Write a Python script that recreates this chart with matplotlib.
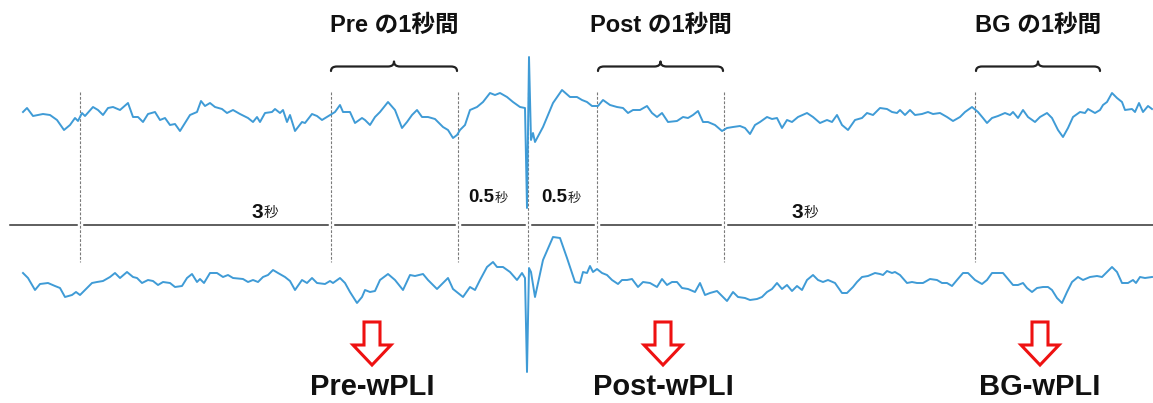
import numpy as np
import matplotlib.pyplot as plt
from matplotlib.path import Path
from matplotlib.patches import PathPatch, Polygon

plt.rcParams['font.family'] = ['Liberation Sans', 'Noto Sans CJK JP']

# two EEG channels, sample position vs. trace value (screen units, y down)
upper_t = [23, 27, 33, 43, 50, 57, 64, 70, 75, 78, 82, 85, 93, 98, 103, 108, 113, 120, 128, 133,
           138, 143, 148, 155, 160, 165, 170, 175, 180, 185, 190, 197, 201, 205, 210, 215, 222, 227, 233, 240,
           248, 253, 257, 260, 265, 272, 275, 280, 283, 287, 290, 295, 302, 305, 312, 317, 322, 330, 335, 340,
           343, 350, 355, 362, 365, 370, 375, 380, 388, 395, 402, 407, 412, 417, 422, 428, 435, 443, 448, 453,
           457, 460, 465, 470, 477, 483, 490, 495, 500, 507, 513, 520, 525, 527, 529, 531, 533, 535, 543, 553,
           562, 570, 577, 582, 587, 592, 598, 603, 610, 617, 623, 628, 633, 640, 647, 652, 657, 662, 668, 677,
           683, 688, 693, 698, 703, 708, 715, 722, 727, 733, 740, 745, 750, 755, 760, 767, 772, 777, 782, 787,
           792, 798, 807, 813, 820, 827, 832, 837, 842, 848, 855, 862, 867, 873, 880, 887, 892, 897, 900, 905,
           910, 915, 922, 928, 933, 940, 947, 953, 960, 965, 972, 978, 983, 987, 992, 998, 1005, 1010, 1013, 1018,
           1023, 1028, 1035, 1040, 1047, 1052, 1058, 1063, 1068, 1073, 1080, 1085, 1088, 1095, 1100, 1103, 1107, 1112, 1117, 1122,
           1125, 1132, 1135, 1139, 1143, 1148, 1152]
upper_v = [112, 108, 116, 114, 115, 120, 130, 125, 118, 121, 113, 116, 107, 110, 115, 108, 107, 110, 103, 117,
           117, 122, 114, 112, 120, 118, 125, 124, 131, 123, 115, 112, 101, 106, 103, 107, 109, 113, 110, 114,
           118, 122, 117, 122, 113, 112, 109, 113, 110, 122, 115, 131, 122, 123, 114, 116, 120, 115, 112, 105,
           112, 112, 123, 118, 120, 125, 117, 112, 102, 110, 128, 122, 115, 110, 117, 117, 119, 127, 130, 138,
           135, 130, 125, 110, 107, 102, 93, 95, 93, 97, 102, 107, 108, 208, 57, 140, 133, 142, 127, 103,
           90, 97, 97, 100, 102, 106, 106, 100, 105, 107, 108, 113, 110, 110, 106, 113, 117, 113, 122, 121,
           117, 118, 115, 111, 122, 122, 125, 131, 128, 127, 126, 128, 134, 125, 122, 117, 119, 118, 128, 120,
           122, 117, 113, 117, 123, 120, 122, 115, 125, 130, 120, 118, 113, 115, 108, 109, 112, 113, 110, 115,
           110, 115, 114, 112, 114, 113, 117, 121, 117, 112, 107, 112, 118, 123, 118, 116, 113, 115, 112, 118,
           110, 117, 122, 117, 113, 118, 130, 137, 128, 117, 112, 113, 109, 113, 110, 105, 102, 93, 98, 102,
           110, 109, 112, 103, 112, 106, 109]

lower_t = [23, 28, 35, 40, 48, 55, 60, 65, 72, 76, 80, 87, 92, 97, 103, 110, 115, 120, 127, 133,
           137, 142, 148, 153, 158, 163, 170, 175, 182, 187, 192, 197, 200, 204, 210, 217, 223, 228, 233, 243,
           248, 253, 258, 263, 268, 273, 278, 285, 290, 295, 302, 307, 312, 317, 325, 330, 333, 340, 345, 350,
           357, 362, 365, 370, 375, 380, 388, 395, 403, 410, 415, 423, 428, 437, 443, 448, 453, 458, 463, 470,
           475, 480, 487, 493, 497, 503, 510, 517, 522, 525, 527, 529, 531, 535, 543, 553, 560, 567, 575, 580,
           583, 587, 590, 593, 597, 602, 607, 612, 618, 622, 627, 632, 638, 643, 650, 657, 662, 667, 672, 677,
           682, 688, 695, 700, 705, 710, 717, 722, 727, 733, 738, 745, 750, 757, 762, 767, 772, 777, 782, 787,
           792, 797, 802, 807, 813, 818, 823, 828, 835, 842, 847, 853, 857, 862, 868, 875, 880, 883, 887, 892,
           895, 900, 907, 912, 917, 923, 930, 937, 942, 947, 952, 957, 963, 968, 975, 982, 987, 992, 998, 1003,
           1008, 1013, 1018, 1023, 1027, 1032, 1037, 1043, 1048, 1052, 1057, 1062, 1067, 1072, 1078, 1083, 1090, 1097, 1102, 1107,
           1112, 1117, 1122, 1128, 1133, 1136, 1140, 1145, 1152]
lower_v = [273, 278, 290, 284, 283, 286, 288, 297, 295, 292, 295, 288, 283, 282, 281, 277, 273, 278, 272, 277,
           278, 283, 280, 281, 285, 282, 283, 287, 286, 278, 274, 282, 279, 283, 273, 273, 277, 275, 278, 279,
           282, 280, 282, 277, 275, 270, 273, 277, 281, 290, 280, 283, 278, 283, 284, 281, 283, 278, 283, 292,
           303, 297, 290, 292, 291, 280, 274, 280, 290, 275, 276, 274, 280, 289, 283, 278, 289, 293, 297, 287,
           290, 280, 267, 262, 267, 267, 272, 280, 273, 278, 372, 268, 272, 297, 260, 237, 238, 258, 282, 283,
           272, 273, 266, 272, 269, 273, 275, 280, 284, 280, 280, 279, 287, 282, 283, 287, 279, 285, 282, 282,
           288, 289, 292, 283, 295, 293, 291, 296, 301, 292, 297, 298, 300, 299, 297, 292, 289, 283, 289, 285,
           291, 286, 290, 280, 275, 280, 282, 280, 283, 293, 293, 287, 282, 277, 276, 273, 274, 275, 271, 273,
           272, 275, 283, 282, 283, 283, 279, 280, 283, 283, 286, 280, 273, 273, 280, 284, 280, 273, 273, 273,
           279, 285, 285, 283, 288, 292, 288, 287, 287, 290, 298, 303, 292, 282, 277, 280, 277, 276, 277, 272,
           267, 272, 283, 283, 280, 283, 277, 278, 277]

# segment boundaries on the time line
marks = [80, 331, 458, 528, 597, 724, 975]

# 1-second analysis windows
windows = ['Pre', 'Post', 'BG']
win_start = [331, 598, 976]
win_end = [457, 723, 1100]
wpli_labels = ['Pre-wPLI', 'Post-wPLI', 'BG-wPLI']
wpli_x = [372, 663, 1040]

durations = ['3', '0.5', '0.5', '3']
dur_x = [263, 494, 567, 803]

W, H = 1153, 403
fig = plt.figure(figsize=(W / 100, H / 100), dpi=100)
ax = fig.add_axes([0, 0, 1, 1])
ax.set_xlim(0, W)
ax.set_ylim(H, 0)
ax.axis('off')

trace_color = '#3f9bd6'
ax.plot(upper_t, upper_v, color=trace_color, lw=1.4, solid_joinstyle='round', zorder=3)
ax.plot(lower_t, lower_v, color=trace_color, lw=1.4, solid_joinstyle='round', zorder=3)

# dashed boundaries
for m in marks:
    ax.plot([m, m], [92, 262], color='#7a7a7a', lw=0.8, ls=(0, (2.5, 1.5)), zorder=1)

# time line broken at each boundary
edges = [10] + [v for m in marks for v in (m - 3.5, m + 3.5)] + [W]
for a, b in zip(edges[0::2], edges[1::2]):
    ax.plot([a, b], [225, 225], color='#333333', lw=1.1, zorder=2)

# duration labels
for label, x in zip(durations, dur_x):
    big = label == '3'
    y = 212 if big else 197
    ax.text(x, y, label, ha='right', va='center', fontsize=15 if big else 13.5,
            fontweight='bold', color='#111111', family=['Liberation Sans', 'Noto Sans CJK JP'])
    ax.text(x + 1, y + 1, '秒', ha='left', va='center', fontsize=10.5 if big else 9.5,
            color='#222222', family='Noto Sans CJK JP')


def brace(x0, x1, y_end=71, y_flat=66.5, y_tip=61.5, r=6):
    xc = (x0 + x1) / 2
    verts = [(x0, y_end), (x0, y_flat), (x0 + r, y_flat),
             (xc - r, y_flat), (xc, y_flat), (xc, y_tip),
             (xc, y_flat), (xc + r, y_flat),
             (x1 - r, y_flat), (x1, y_flat), (x1, y_end)]
    codes = [Path.MOVETO, Path.CURVE3, Path.CURVE3,
             Path.LINETO, Path.CURVE3, Path.CURVE3,
             Path.CURVE3, Path.CURVE3,
             Path.LINETO, Path.CURVE3, Path.CURVE3]
    ax.add_patch(PathPatch(Path(verts, codes), fill=False, lw=1.6, color='#222222',
                           capstyle='round', joinstyle='round'))


for name, x0, x1 in zip(windows, win_start, win_end):
    brace(x0, x1)
    ax.text((x0 + x1) / 2, 25, name + ' の1秒間', ha='center', va='center',
            fontsize=17, fontweight='bold', color='#111111')

# hollow red arrows pointing to the wPLI results
for label, cx in zip(wpli_labels, wpli_x):
    pts = [(cx - 8, 322), (cx + 8, 322), (cx + 8, 345), (cx + 19, 345),
           (cx, 365), (cx - 19, 345), (cx - 8, 345)]
    ax.add_patch(Polygon(pts, closed=True, facecolor='white', edgecolor='#ee1111',
                         lw=2.2, joinstyle='miter'))
    ax.text(cx, 387, label, ha='center', va='center', fontsize=21,
            fontweight='bold', color='#111111')

fig.savefig('out.png', dpi=100)
